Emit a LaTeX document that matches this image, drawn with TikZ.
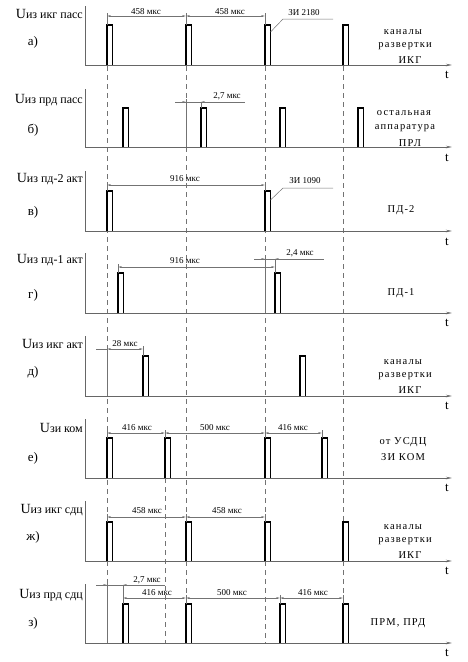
\documentclass[tikz,border=0pt]{standalone}
\usepackage{fontspec}
\setmainfont{Liberation Serif}
\usetikzlibrary{arrows.meta}
\newcommand\mypulse[3]{\draw[pulse] (#1,#2) -- (#1,#3) -- ({#1+5.5},#3) -- ({#1+5.5},#2);}
\newcommand\myaxis[2]{\draw[axis] (85,#1) -- (85,#2);
  \draw[axis,-{Stealth[length=6pt,width=2.5pt]}] (85,#2) -- (452,#2);}
\newcommand\mydim[3]{\draw[dimline] (#1,#3) -- (#2,#3);}
\begin{document}
\begin{tikzpicture}[x=1pt,y=-1pt,
  axis/.style={draw=black!60, line width=0.8pt},
  pulse/.style={draw=black, line width=1.3pt},
  guide/.style={draw=black!55, line width=0.6pt, dash pattern=on 5pt off 4pt},
  dimline/.style={draw=black!55, line width=0.5pt, {Stealth[length=4pt,width=1.8pt]}-{Stealth[length=4pt,width=1.8pt]}},
  ext/.style={draw=black!55, line width=0.5pt},
  sig/.style={anchor=base east, inner sep=0pt},
  panel/.style={font=\fontsize{13}{13}\selectfont, inner sep=0pt},
  dimtxt/.style={font=\fontsize{9}{9}\selectfont, inner sep=0pt},
  side/.style={font=\fontsize{10.5}{10.5}\selectfont\addfontfeature{LetterSpace=11}, inner sep=0pt},
  tlab/.style={font=\fontsize{13}{13}\selectfont, inner sep=0pt}]
\useasboundingbox (0,0) rectangle (468,662);
\newcommand\Ubig{\fontsize{14}{14}\selectfont U\fontsize{12}{12}\selectfont}
% dashed guides
\foreach \gx in {107,186,265,343} {\draw[guide] (\gx,66) -- (\gx,643);}
\draw[guide] (165,478) -- (165,643);

% ---------- a)
\myaxis{6}{65}
\node[sig] (la) at (83,18) {\Ubig из икг пасс};
\node[panel] (pa) at (33,42) {а)};
\node[tlab] (ta) at (447,75) {t};
\foreach \px in {107,186,265,343} {\mypulse{\px}{65}{25}}
\foreach \px in {107,186,265} {\draw[ext] (\px,13) -- (\px,25);}
\mydim{107}{186}{16}
\mydim{186}{265}{16}
\node[dimtxt] (da1) at (146,12) {458 мкс};
\node[dimtxt] (da2) at (230,12) {458 мкс};
\draw[ext] (270.5,32) -- (283,19) -- (333,19);
\node[dimtxt] (zi1) at (304,13) {ЗИ 2180};
\node[side] (sa1) at (403,32) {каналы};
\node[side] (sa2) at (405,46) {развертки};
\node[side] (sa3) at (410,60) {ИКГ};

% ---------- б)
\myaxis{89}{147}
\node[sig] (lb) at (83,103) {\Ubig из прд пасс};
\node[panel] (pb) at (33,130) {б)};
\node[tlab] (tb) at (447,158) {t};
\foreach \px in {123,201,280,358} {\mypulse{\px}{147}{108}}
\draw[ext] (186,99) -- (186,147);
\draw[ext] (201,102) -- (201,108);
\draw[ext] (175,102) -- (245,102);
\draw[dimline,-{Stealth[length=4pt,width=1.8pt]}] (176,102) -- (186,102);
\draw[dimline,-{Stealth[length=4pt,width=1.8pt]}] (211,102) -- (201,102);
\node[dimtxt] (db) at (227,96) {2,7 мкс};
\node[side] (sb1) at (404,113) {остальная};
\node[side] (sb2) at (405,128) {аппаратура};
\node[side] (sb3) at (410,143) {ПРЛ};

% ---------- в)
\myaxis{171}{231}
\node[sig] (lv) at (83,182) {\Ubig из пд-2 акт};
\node[panel] (pv) at (33,212) {в)};
\node[tlab] (tv) at (447,242) {t};
\foreach \px in {107,265} {\mypulse{\px}{231}{191}}
\foreach \px in {107,265} {\draw[ext] (\px,182) -- (\px,191);}
\mydim{107}{265}{185}
\node[dimtxt] (dv) at (185,179) {916 мкс};
\draw[ext] (270.5,200) -- (283,188) -- (333,188);
\node[dimtxt] (zi2) at (305,181) {ЗИ 1090};
\node[side] (sv) at (401,210) {ПД-2};

% ---------- г)
\myaxis{253}{313}
\node[sig] (lg) at (83,263) {\Ubig из пд-1 акт};
\node[panel] (pg) at (33,295) {г)};
\node[tlab] (tg) at (447,323) {t};
\foreach \px in {118,275} {\mypulse{\px}{313}{273}}
\foreach \px in {118} {\draw[ext] (\px,264) -- (\px,273);}
\mydim{118}{275}{267}
\node[dimtxt] (dg1) at (185,261) {916 мкс};
\draw[ext] (265,256) -- (265,313);
\draw[ext] (275,259) -- (275,273);
\draw[ext] (254,259) -- (324,259);
\draw[dimline,-{Stealth[length=4pt,width=1.8pt]}] (255,259) -- (265,259);
\draw[dimline,-{Stealth[length=4pt,width=1.8pt]}] (285,259) -- (275,259);
\node[dimtxt] (dg2) at (300,253) {2,4 мкс};
\node[side] (sg) at (401,293) {ПД-1};

% ---------- д)
\myaxis{336}{396}
\node[sig] (ld) at (83,348) {\Ubig из икг акт};
\node[panel] (pd) at (33,372) {д)};
\node[tlab] (td) at (447,406) {t};
\foreach \px in {143,300} {\mypulse{\px}{396}{356}}
\draw[ext] (107,346) -- (107,396);
\draw[ext] (143,346) -- (143,356);
\draw[ext] (96,349) -- (107,349);
\mydim{107}{143}{349}
\node[dimtxt] (dd) at (125,344) {28 мкс};
\node[side] (sd1) at (403,362) {каналы};
\node[side] (sd2) at (405,376) {развертки};
\node[side] (sd3) at (410,390) {ИКГ};

% ---------- е)
\myaxis{419}{478}
\node[sig] (le) at (83,432) {\Ubig зи ком};
\node[panel] (pe) at (33,458) {е)};
\node[tlab] (te) at (447,488) {t};
\foreach \px in {107,165,265,322} {\mypulse{\px}{478}{438}}
\foreach \px in {107,165,265,322} {\draw[ext] (\px,430) -- (\px,438);}
\mydim{107}{165}{433}
\mydim{165}{265}{433}
\mydim{265}{322}{433}
\node[dimtxt] (de1) at (137,428) {416 мкс};
\node[dimtxt] (de2) at (215,428) {500 мкс};
\node[dimtxt] (de3) at (293,428) {416 мкс};
\node[side] (se1) at (403,442) {от УСДЦ};
\node[side] (se2) at (403,457) {ЗИ КОМ};

% ---------- ж)
\myaxis{501}{561}
\node[sig] (lzh) at (83,513) {\Ubig из икг сдц};
\node[panel] (pzh) at (33,537) {ж)};
\node[tlab] (tzh) at (447,571) {t};
\foreach \px in {107,186,265,343} {\mypulse{\px}{561}{522}}
\foreach \px in {107,186,265} {\draw[ext] (\px,514) -- (\px,522);}
\mydim{107}{186}{517}
\mydim{186}{265}{517}
\node[dimtxt] (dzh1) at (147,511) {458 мкс};
\node[dimtxt] (dzh2) at (227,511) {458 мкс};
\node[side] (szh1) at (403,527) {каналы};
\node[side] (szh2) at (405,541) {развертки};
\node[side] (szh3) at (410,555) {ИКГ};

% ---------- з)
\myaxis{584}{643}
\node[sig] (lz) at (83,598) {\Ubig из прд сдц};
\node[panel] (pz) at (33,623) {з)};
\node[tlab] (tz) at (447,653) {t};
\foreach \px in {123,186,280,343} {\mypulse{\px}{643}{604}}
\draw[ext] (107,582) -- (107,643);
\draw[ext] (123,585) -- (123,604);
\draw[ext] (186,595) -- (186,604);
\draw[ext] (280,595) -- (280,604);
\draw[ext] (343,595) -- (343,604);
\draw[ext] (96,585) -- (165,585);
\draw[dimline,-{Stealth[length=4pt,width=1.8pt]}] (97,585) -- (107,585);
\draw[dimline,-{Stealth[length=4pt,width=1.8pt]}] (133,585) -- (123,585);
\node[dimtxt] (dz0) at (147,580) {2,7 мкс};
\mydim{123}{186}{598}
\mydim{186}{280}{598}
\mydim{280}{343}{598}
\node[dimtxt] (dz1) at (157,593) {416 мкс};
\node[dimtxt] (dz2) at (232,593) {500 мкс};
\node[dimtxt] (dz3) at (313,593) {416 мкс};
\node[side] (sz) at (398,623) {ПРМ, ПРД};
\end{tikzpicture}
\end{document}
